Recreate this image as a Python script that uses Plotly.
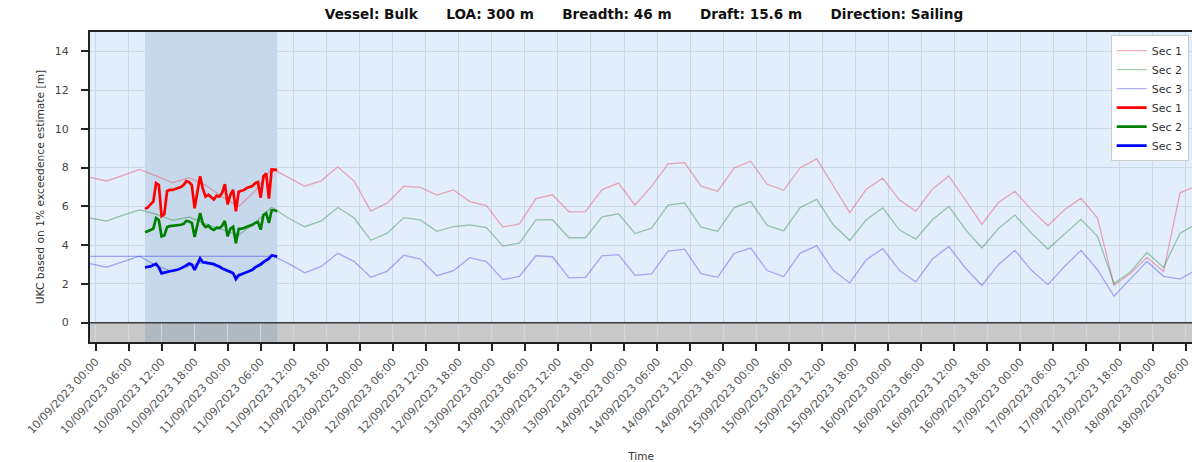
import pandas as pd
import plotly.graph_objects as go

# ---------------- data ----------------
# forecast series (3-hourly), starting 09/09/2023 23:00
forecast_start = "2023-09-09 23:00"
sec1_forecast = [7.50, 7.31, 7.60, 7.91, 7.57, 7.22, 7.48, 7.10, 6.50, 6.00,
                 6.80, 7.95, 7.50, 7.04, 7.32, 8.04, 7.29, 5.76, 6.17, 7.04,
                 6.98, 6.58, 6.85, 6.25, 6.04, 4.93, 5.10, 6.40, 6.60, 5.72,
                 5.73, 6.87, 7.20, 6.06, 7.03, 8.19, 8.26, 7.04, 6.78, 7.98,
                 8.33, 7.14, 6.83, 8.00, 8.45, 7.03, 5.68, 6.88, 7.46, 6.34,
                 5.75, 6.88, 7.57, 6.34, 5.07, 6.20, 6.78, 5.82, 5.00, 5.83,
                 6.42, 5.40, 1.92, 2.54, 3.37, 2.64, 6.70, 7.05]
sec2_forecast = [5.40, 5.24, 5.55, 5.82, 5.60, 5.28, 5.45, 5.10, 4.80, 4.52,
                 5.15, 5.95, 5.40, 4.95, 5.25, 5.94, 5.40, 4.25, 4.62, 5.42,
                 5.30, 4.71, 4.95, 5.04, 4.90, 3.95, 4.10, 5.30, 5.31, 4.38,
                 4.38, 5.46, 5.62, 4.60, 4.88, 6.07, 6.18, 4.93, 4.71, 5.94,
                 6.25, 5.02, 4.73, 5.94, 6.36, 5.05, 4.24, 5.31, 5.92, 4.79,
                 4.31, 5.31, 6.00, 4.81, 3.85, 4.86, 5.55, 4.62, 3.80, 4.58,
                 5.33, 4.45, 2.02, 2.63, 3.62, 2.85, 4.61, 5.10]
sec3_forecast = [3.05, 2.86, 3.15, 3.43, 2.95, 2.62, 2.92, 3.15, 2.75, 2.35,
                 2.90, 3.47, 3.06, 2.57, 2.90, 3.58, 3.15, 2.34, 2.66, 3.48,
                 3.28, 2.42, 2.68, 3.35, 3.15, 2.22, 2.38, 3.45, 3.40, 2.31,
                 2.33, 3.45, 3.51, 2.44, 2.52, 3.69, 3.79, 2.53, 2.34, 3.57,
                 3.85, 2.69, 2.38, 3.59, 3.96, 2.70, 2.05, 3.25, 3.82, 2.70,
                 2.10, 3.28, 3.93, 2.82, 1.92, 2.99, 3.73, 2.70, 1.96, 2.90,
                 3.73, 2.73, 1.36, 2.25, 3.16, 2.39, 2.25, 2.73]

# measured / nowcast series (30-min), starting 10/09/2023 09:00
measured_start = "2023-09-10 09:00"
sec1_measured = [5.87, 5.95, 6.10, 6.25, 7.20, 7.10, 5.50, 5.60, 6.80, 6.85,
                 6.85, 6.90, 6.95, 7.00, 7.10, 7.30, 7.25, 7.10, 5.90, 6.80,
                 7.55, 6.90, 6.50, 6.60, 6.45, 6.35, 6.55, 6.50, 6.70, 7.15,
                 6.10, 6.60, 6.85, 5.75, 6.75, 6.80, 6.85, 6.95, 7.00, 7.05,
                 7.20, 7.25, 6.45, 7.55, 7.70, 6.40, 7.90, 7.90, 7.88]
sec2_measured = [4.66, 4.70, 4.78, 4.85, 5.40, 5.30, 4.45, 4.50, 4.93, 4.98,
                 5.00, 5.00, 5.02, 5.05, 5.10, 5.25, 5.22, 5.15, 4.42, 5.00,
                 5.65, 5.10, 4.93, 5.00, 4.85, 4.78, 4.90, 4.88, 5.00, 5.25,
                 4.45, 4.85, 4.95, 4.10, 4.83, 4.85, 4.88, 4.95, 5.00, 5.05,
                 5.15, 5.20, 4.80, 5.55, 5.65, 5.15, 5.80, 5.80, 5.75]
sec3_measured = [2.85, 2.87, 2.90, 2.97, 3.03, 2.85, 2.54, 2.58, 2.63, 2.65,
                 2.68, 2.70, 2.74, 2.80, 2.86, 2.95, 3.05, 3.00, 2.72, 3.05,
                 3.32, 3.12, 3.10, 3.08, 3.06, 3.02, 2.95, 2.90, 2.80, 2.72,
                 2.68, 2.63, 2.55, 2.25, 2.45, 2.50, 2.55, 2.60, 2.68, 2.72,
                 2.85, 2.92, 3.00, 3.12, 3.22, 3.30, 3.47, 3.45, 3.42]

# reference level line for Sec 3 over the observed window
sec3_level_times = ["2023-09-09 23:00", "2023-09-11 09:00"]
sec3_level_values = [3.42, 3.42]

window_start = "2023-09-10 09:00"
window_end = "2023-09-11 09:00"

x_range = ["2023-09-09 23:00", "2023-09-18 07:10"]
y_range = [-1, 15]
y_ticks = [0, 2, 4, 6, 8, 10, 12, 14]

tick_times = pd.date_range("2023-09-10 00:00", "2023-09-18 06:00", freq="6h")
tick_labels = [t.strftime("%d/%m/%Y %H:%M") for t in tick_times]

title_parts = ["Vessel: Bulk", "LOA: 300 m", "Breadth: 46 m", "Draft: 15.6 m", "Direction: Sailing"]

# ---------------- figure ----------------
f_times = pd.date_range(forecast_start, periods=len(sec1_forecast), freq="3h")
m_times = pd.date_range(measured_start, periods=len(sec1_measured), freq="30min")

FONT = "DejaVu Sans"
fig = go.Figure()

thin = [("Sec 1", sec1_forecast, "rgba(235,60,90,0.42)"),
        ("Sec 2", sec2_forecast, "rgba(30,130,50,0.40)"),
        ("Sec 3", sec3_forecast, "rgba(40,40,230,0.36)")]
for name, vals, col in thin:
    fig.add_trace(go.Scatter(x=f_times, y=vals, mode="lines", name=name,
                             line=dict(color=col, width=1.3)))

fig.add_trace(go.Scatter(x=pd.to_datetime(sec3_level_times), y=sec3_level_values,
                         mode="lines", showlegend=False,
                         line=dict(color="rgba(40,40,230,0.36)", width=1.3)))

bold = [("Sec 1", sec1_measured, "#ff0000"),
        ("Sec 2", sec2_measured, "#008000"),
        ("Sec 3", sec3_measured, "#0000ff")]
for name, vals, col in bold:
    fig.add_trace(go.Scatter(x=m_times, y=vals, mode="lines", name=name,
                             line=dict(color=col, width=2.7)))

# grey band below zero
fig.add_shape(type="rect", xref="paper", yref="y", x0=0, x1=1, y0=y_range[0], y1=0,
              fillcolor="#c9c9c9", line=dict(width=0), layer="below")
# observed window shading
fig.add_shape(type="rect", xref="x", yref="paper", x0=window_start, x1=window_end,
              y0=0, y1=1, fillcolor="rgba(40,100,150,0.15)", line=dict(width=0),
              layer="below")
# zero line
fig.add_shape(type="line", xref="paper", yref="y", x0=0, x1=1, y0=0, y1=0,
              line=dict(color="#3a3a3a", width=1.5))

title_text = "<b>" + "\u00a0\u00a0\u00a0\u00a0\u00a0\u00a0".join(title_parts) + "</b>"

fig.update_layout(
    width=1192, height=462,
    margin=dict(l=90, r=0, t=32, b=120, autoexpand=False),
    paper_bgcolor="white",
    plot_bgcolor="#e2eefc",
    font=dict(family=FONT, size=10, color="#333333"),
    title=dict(text=title_text, x=644 / 1192, xref="container", xanchor="center",
               y=1 - 14 / 462, yref="container", yanchor="middle",
               font=dict(family=FONT, size=13.6, color="#111111"), automargin=False),
    showlegend=True,
    legend=dict(x=0.997, xanchor="right", y=0.99, yanchor="top",
                bgcolor="white", bordercolor="#cccccc", borderwidth=1,
                font=dict(family=FONT, size=11, color="#333333"),
                itemwidth=30, tracegroupgap=0),
)

fig.update_xaxes(
    range=x_range, tickmode="array", tickvals=tick_times, ticktext=tick_labels,
    tickangle=-47, ticks="outside", ticklen=7, tickwidth=1.5, tickcolor="#222222",
    ticklabeloverflow="allow",
    showgrid=True, gridcolor="#cbd8e8", gridwidth=1,
    showline=True, linecolor="#222222", linewidth=2, mirror=True,
    zeroline=False, automargin=False,
    title=dict(text="Time", font=dict(family=FONT, size=10.5, color="#333333"), standoff=20),
    tickfont=dict(family=FONT, size=11, color="#555555"),
)
fig.update_yaxes(
    range=y_range, tickmode="array", tickvals=y_ticks,
    ticks="outside", ticklen=7, tickwidth=1.5, tickcolor="#222222",
    showgrid=True, gridcolor="#cbd8e8", gridwidth=1,
    showline=True, linecolor="#222222", linewidth=2, mirror=False,
    zeroline=False, automargin=False, ticklabelstandoff=10,
    title=dict(text="UKC based on 1% exceedence estimate [m]",
               font=dict(family=FONT, size=10.7, color="#333333"), standoff=8),
    tickfont=dict(family=FONT, size=11, color="#444444"),
)

fig.write_html(
    "out.html",
    config={"displayModeBar": False},
    post_script="document.body.style.margin='0';document.body.style.overflow='hidden';",
)
